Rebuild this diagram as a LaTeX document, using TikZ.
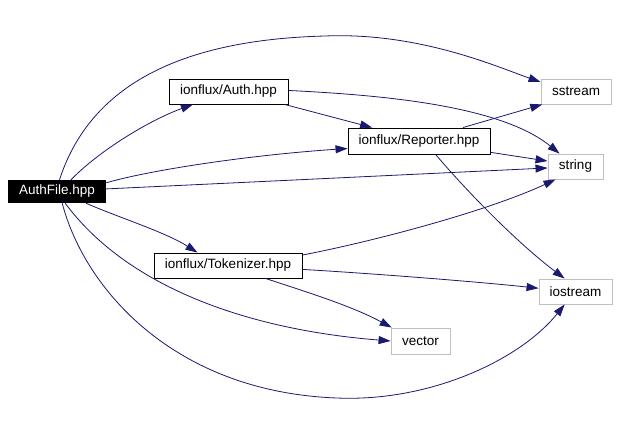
\documentclass[tikz,border=0pt]{standalone}
\usepackage{fontspec}
\setmainfont{Liberation Sans}
\usetikzlibrary{arrows.meta}
\definecolor{edgeblue}{HTML}{191970}
\definecolor{sysgrey}{HTML}{BFBFBF}

\begin{document}
\begin{tikzpicture}[x=1pt,y=-1pt,font=\fontsize{13.5}{15}\selectfont,
    mainfile/.style={fill=black,text=white,inner sep=0pt},
    incfile/.style={draw=black,line width=0.9pt,fill=white,inner sep=0pt},
    sysfile/.style={draw=sysgrey,line width=0.9pt,fill=white,inner sep=0pt},
    dep/.style={draw=edgeblue,line width=0.8pt,-{Triangle[length=12pt,width=8pt]}}]
      \useasboundingbox (0,0) rectangle (619,423);
      \node[mainfile,minimum width=98pt,minimum height=23pt] (authfile) at (57,191.5) {AuthFile.hpp};
      \node[incfile,minimum width=119pt,minimum height=25pt] (auth) at (228.5,91.5) {ionflux/Auth.hpp};
      \node[incfile,minimum width=142pt,minimum height=26pt] (reporter) at (419,141) {ionflux/Reporter.hpp};
      \node[incfile,minimum width=148pt,minimum height=25pt] (tokenizer) at (228,265.5) {ionflux/Tokenizer.hpp};
      \node[sysfile,minimum width=70pt,minimum height=25pt] (sstream) at (576,91.5) {sstream};
      \node[sysfile,minimum width=55pt,minimum height=25pt] (string) at (575.5,166.5) {string};
      \node[sysfile,minimum width=73pt,minimum height=25pt] (iostream) at (575.5,291.5) {iostream};
      \node[sysfile,minimum width=59pt,minimum height=26pt] (vector) at (420.5,341) {vector};
      \draw[dep] (authfile.78) .. controls (88,92) and (170,40) .. (325,36)
        .. controls (420,32) and (500,68) .. (sstream.165);
      \draw[dep] (authfile.40) .. controls (100,150) and (150,120) .. (auth.200);
      \draw[dep] (authfile.10) .. controls (150,170) and (250,155) .. (reporter.186);
      \draw[dep] (authfile.3) -- (string.183);
      \draw[dep] (authfile.-22) .. controls (120,218) and (165,232) .. (tokenizer.157);
      \draw[dep] (authfile.-55) .. controls (125,284) and (241,329) .. (vector.west);
      \draw[dep] (authfile.-66) .. controls (85,290) and (175,392) .. (337,398)
        .. controls (430,402) and (520,360) .. (iostream.230);
      \draw[dep] (auth.-13) -- (reporter.164);
      \draw[dep] (auth.1) .. controls (380,95) and (500,105) .. (string.141);
      \draw[dep] (reporter.17) -- (sstream.201);
      \draw[dep] (reporter.-9) -- (string.169);
      \draw[dep] (reporter.-39) .. controls (470,195) and (520,245) .. (iostream.130);
      \draw[dep] (tokenizer.8) .. controls (380,240) and (490,210) .. (string.213);
      \draw[dep] (tokenizer.-3) .. controls (380,274) and (480,282) .. (iostream.175);
      \draw[dep] (tokenizer.-19) .. controls (300,290) and (350,305) .. (vector.155);
    \end{tikzpicture}
\end{document}
